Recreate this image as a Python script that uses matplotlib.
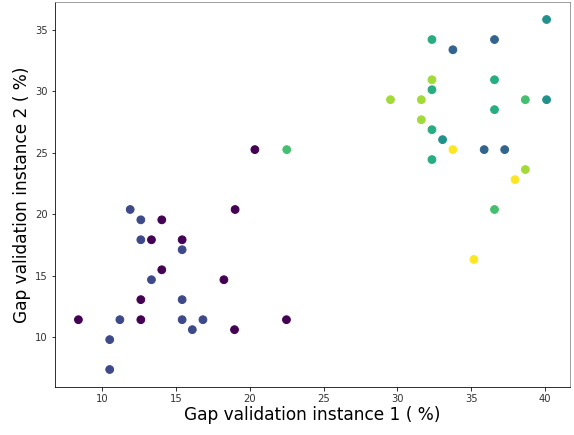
"""Scatter of gap validation instances, coloured by cluster."""

import matplotlib
matplotlib.use("Agg")
import matplotlib.pyplot as plt
import numpy as np

# cluster colour positions on viridis (0..1)
CLUSTER_LEVELS = [0.0, 0.22, 0.32, 0.5, 0.62, 0.7, 0.86, 1.0]

gap_1 = [
    # cluster 0 (purple)
    19.0, 14.03, 13.33, 15.41, 14.03, 18.24, 12.61, 8.38, 12.61, 22.48, 18.96, 20.34,
    # cluster 1 (blue-purple)
    11.89, 12.61, 12.61, 15.41, 13.33, 15.41, 11.19, 15.41, 16.82, 16.10, 10.50, 10.50,
    # cluster 2 (dark blue)
    36.58, 33.76, 35.88, 37.27,
    # cluster 3 (teal)
    40.11, 40.11, 33.06,
    # cluster 4 (green-teal)
    32.34, 36.58, 32.34, 36.58, 32.34, 32.34,
    # cluster 5 (green)
    38.67, 36.58, 22.50,
    # cluster 6 (lime)
    32.34, 29.53, 31.62, 31.62, 38.67,
    # cluster 7 (yellow)
    33.76, 37.97, 35.18,
]
gap_2 = [
    20.39, 19.55, 17.93, 17.93, 15.49, 14.68, 13.06, 11.43, 11.43, 11.43, 10.62, 25.26,
    20.39, 19.55, 17.93, 17.12, 14.68, 13.06, 11.43, 11.43, 11.43, 10.62, 9.81, 7.38,
    34.21, 33.38, 25.26, 25.26,
    35.84, 29.32, 26.07,
    34.21, 30.94, 30.13, 28.51, 26.88, 24.45,
    29.32, 20.39, 25.26,
    30.94, 29.32, 29.32, 27.69, 23.64,
    25.26, 22.82, 16.33,
]
cluster = [0] * 12 + [1] * 12 + [2] * 4 + [3] * 3 + [4] * 6 + [5] * 3 + [6] * 5 + [7] * 3

levels = np.array(CLUSTER_LEVELS)[cluster]

fig = plt.figure(figsize=(574 / 72, 435 / 72), dpi=72)
ax = fig.add_axes([55 / 574, 48 / 435, 515 / 574, 385 / 435])
ax.scatter(gap_1, gap_2, c=levels, cmap="viridis", vmin=0, vmax=1, s=60)
ax.set_xlabel("Gap validation instance 1 ( %)", fontsize=17, labelpad=2)
ax.set_ylabel("Gap validation instance 2 ( %)", fontsize=17, labelpad=4)
ax.tick_params(labelsize=10, labelcolor="#333333")
for side in ["top", "right"]:
    ax.spines[side].set_color("#888888")

fig.savefig("out.png", dpi=72)
